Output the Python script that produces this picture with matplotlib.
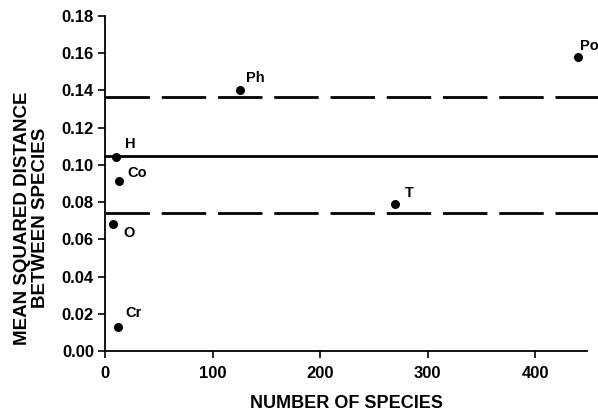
import matplotlib
matplotlib.use("Agg")
import matplotlib.pyplot as plt

plt.rcParams['font.family'] = ['Liberation Sans', 'DejaVu Sans']
plt.rcParams['font.weight'] = 'bold'
plt.rcParams['lines.scale_dashes'] = False

labels = ['Ph', 'H', 'Co', 'O', 'Cr', 'T', 'Po']
n_species = [125.6, 10, 13, 7.7, 12.4, 270, 440]
msd = [0.140, 0.1043, 0.0912, 0.068, 0.0129, 0.0788, 0.1576]
label_offsets = [(4.5, 3.5), (7, 4), (6, 1), (7, -1.5), (5, 5), (7, 3), (1.5, 3.5)]

mean_level = 0.1046
upper_level = 0.1365
lower_level = 0.0742
line_span = [0, 458]

fig = plt.figure(figsize=(5.98, 4.15), dpi=100)
ax = fig.add_axes([0.1756, 0.1542, 0.806, 0.8078])

ax.plot(line_span, [upper_level, upper_level], color='black', lw=2.0,
        dashes=(32, 8.5), clip_on=False)
ax.plot(line_span, [mean_level, mean_level], color='black', lw=2.0, clip_on=False)
ax.plot(line_span, [lower_level, lower_level], color='black', lw=2.0,
        dashes=(32, 8.5), clip_on=False)

ax.scatter(n_species, msd, s=30, color='black', zorder=3, clip_on=False)
for lab, xv, yv, off in zip(labels, n_species, msd, label_offsets):
    ax.annotate(lab, (xv, yv), xytext=off, textcoords='offset points',
                fontsize=10.5, fontweight='bold', ha='left',
                va='bottom' if off[1] > 0 else 'top',
                annotation_clip=False)

ax.set_xlim(0, 448)
ax.set_ylim(0, 0.18)
ax.set_xticks([0, 100, 200, 300, 400])
ax.set_yticks([0.00, 0.02, 0.04, 0.06, 0.08, 0.10, 0.12, 0.14, 0.16, 0.18])
ax.set_yticklabels([f"{v:.2f}" for v in ax.get_yticks()])
ax.tick_params(direction='out', length=5, width=1.2, labelsize=12, pad=3)
ax.tick_params(axis='x', pad=6)
for lab in ax.get_xticklabels() + ax.get_yticklabels():
    lab.set_fontweight('bold')
ax.spines['top'].set_visible(False)
ax.spines['right'].set_visible(False)
ax.spines['left'].set_linewidth(1.3)
ax.spines['bottom'].set_linewidth(1.3)

ax.set_xlabel('NUMBER OF SPECIES', fontsize=13, fontweight='bold', labelpad=10)
ax.set_ylabel('MEAN SQUARED DISTANCE\nBETWEEN SPECIES', fontsize=13.5,
              fontweight='bold', linespacing=1.05)
ax.yaxis.label.set_va('center')
ax.yaxis.set_label_coords(-0.153, 0.397)

fig.savefig('out.png', dpi=100)
